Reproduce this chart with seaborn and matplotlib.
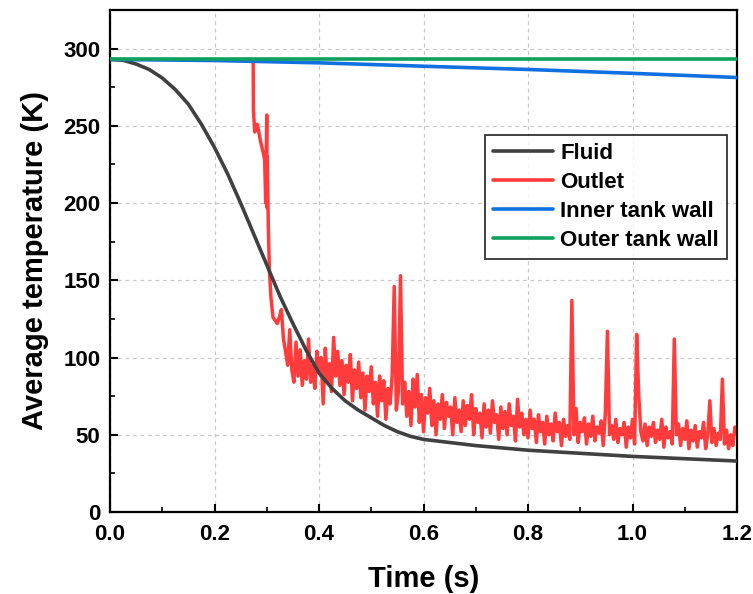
import numpy as np
import pandas as pd
import matplotlib
matplotlib.use("Agg")
import matplotlib.pyplot as plt
import seaborn as sns
from matplotlib.ticker import MultipleLocator
from matplotlib.lines import Line2D

sns.set_theme(style="white")
plt.rcParams['font.family'] = ['Liberation Sans', 'DejaVu Sans']
plt.rcParams['font.weight'] = 'bold'
plt.rcParams['text.color'] = 'black'
plt.rcParams['axes.labelcolor'] = 'black'
plt.rcParams['xtick.color'] = 'black'
plt.rcParams['ytick.color'] = 'black'

# ---------------- data ----------------
fluid_t = [0, 0.025, 0.05, 0.075, 0.1, 0.125, 0.15, 0.175, 0.2, 0.225, 0.25, 0.275,
           0.3, 0.325, 0.35, 0.375, 0.4, 0.425, 0.45, 0.475, 0.5, 0.525, 0.55, 0.575,
           0.6, 0.65, 0.7, 0.8, 0.9, 1.0, 1.1, 1.2]
fluid_v = [293, 292.5, 290, 286.5, 281, 273.5, 264, 251, 236, 219, 200, 180,
           160, 140, 122, 105, 90, 80, 72, 66, 61, 56, 52, 49,
           47, 45, 43, 40, 38, 36, 34.5, 33]

outlet_head_t = [0.274, 0.2745, 0.277, 0.279, 0.282, 0.288, 0.293, 0.296, 0.298,
                 0.300, 0.3005, 0.301, 0.302, 0.303, 0.305, 0.308, 0.312, 0.316]
outlet_head_v = [291, 260, 246, 250, 251, 240, 233, 228, 200,
                 257, 197, 230, 205, 185, 157, 139, 126, 124]

outlet_noise_start = 0.320
outlet_noise_step = 0.004
outlet_noise_v = [
    122, 126, 131, 112, 104, 95, 118, 92, 84, 110,
    88, 105, 82, 98, 86, 112, 84, 95, 80, 104,
    90, 100, 70, 106, 85, 96, 78, 113, 88, 104,
    82, 98, 76, 95, 84, 102, 72, 92, 80, 97,
    74, 90, 66, 88, 78, 94, 70, 84, 62, 88,
    72, 85, 60, 80, 70, 88, 146, 66, 78, 153,
    70, 84, 62, 78, 56, 86, 68, 89, 58, 76,
    52, 74, 64, 80, 56, 72, 50, 70, 60, 76,
    54, 71, 62, 68, 50, 74, 58, 66, 52, 72,
    56, 69, 60, 76, 50, 67, 58, 64, 48, 70,
    55, 66, 51, 72, 58, 63, 47, 68, 54, 65,
    50, 70, 56, 62, 46, 73, 55, 64, 50, 60,
    48, 66, 54, 60, 45, 63, 52, 58, 44, 62,
    50, 57, 46, 64, 52, 58, 43, 60, 49, 56,
    47, 137, 50, 67, 45, 58, 52, 61, 44, 57,
    49, 62, 46, 55, 51, 59, 43, 64, 117, 50,
    56, 47, 60, 45, 54, 50, 58, 42, 55, 48,
    60, 44, 115, 75, 52, 46, 57, 43, 55, 49,
    58, 45, 53, 47, 60, 42, 55, 48, 52, 44,
    112, 50, 57, 43, 54, 47, 59, 41, 53, 46,
    56, 42, 52, 48, 58, 41, 50, 72, 45, 54,
    43, 51, 47, 86, 44, 53, 41, 50, 43, 55,
    52,
]

inner_t = [0, 0.2, 0.4, 0.6, 0.8, 1.0, 1.2]
inner_v = [293, 292.3, 290.8, 288.6, 286.5, 284, 281.3]

outer_t = [0, 1.2]
outer_v = [293, 293]

x_ticks = [0.0, 0.2, 0.4, 0.6, 0.8, 1.0, 1.2]
y_ticks = [0, 50, 100, 150, 200, 250, 300]
series_names = ["Fluid", "Outlet", "Inner tank wall", "Outer tank wall"]

# ---------------- frames ----------------
noise_t = outlet_noise_start + outlet_noise_step * np.arange(len(outlet_noise_v))
outlet_t = list(outlet_head_t) + list(noise_t)
outlet_v = list(outlet_head_v) + list(outlet_noise_v)

df_fluid = pd.DataFrame({"t": fluid_t, "T": fluid_v})
df_outlet = pd.DataFrame({"t": outlet_t, "T": outlet_v})
df_inner = pd.DataFrame({"t": inner_t, "T": inner_v})
df_outer = pd.DataFrame({"t": outer_t, "T": outer_v})

fig = plt.figure(figsize=(7.53, 5.94), dpi=100)
ax = fig.add_axes([110/753, 82/594, 627/753, 502/594])

c_fluid = "#404040"
c_outlet = "#ff3b3b"
c_inner = "#1170e0"
c_outer = "#0fa05e"

sns.lineplot(data=df_outlet, x="t", y="T", ax=ax, color=c_outlet, lw=2.5,
             estimator=None, sort=False, zorder=2)
sns.lineplot(data=df_fluid, x="t", y="T", ax=ax, color=c_fluid, lw=2.6,
             estimator=None, zorder=3)
sns.lineplot(data=df_inner, x="t", y="T", ax=ax, color=c_inner, lw=2.6,
             estimator=None, zorder=4)
sns.lineplot(data=df_outer, x="t", y="T", ax=ax, color=c_outer, lw=2.6,
             estimator=None, zorder=5)

ax.set_xlim(0, 1.2)
ax.set_ylim(0, 325)
ax.set_xticks(x_ticks)
ax.set_xticklabels([f"{v:.1f}" for v in x_ticks])
ax.set_yticks(y_ticks)
ax.xaxis.set_minor_locator(MultipleLocator(0.1))
ax.yaxis.set_minor_locator(MultipleLocator(25))
ax.tick_params(which="major", direction="in", length=6, width=1.5,
               labelsize=16, colors="black")
ax.tick_params(axis="x", which="major", pad=9)
ax.tick_params(axis="y", which="major", pad=7)
ax.tick_params(which="minor", direction="in", length=3.5, width=1.2, colors="black")
ax.tick_params(axis="both", which="both", bottom=True, left=True, top=False, right=False)
for lab in ax.get_xticklabels() + ax.get_yticklabels():
    lab.set_fontweight("bold")

ax.grid(True, which="major", linestyle=(0, (3, 3)), color="#c8c8c8", lw=0.9)
ax.set_axisbelow(True)
for s in ax.spines.values():
    s.set_color("black")
    s.set_linewidth(1.6)

ax.set_xlabel("Time (s)", fontsize=21, fontweight="bold", labelpad=14, color="black")
ax.set_ylabel("Average temperature (K)", fontsize=21, fontweight="bold", labelpad=10,
              color="black")

handles = [Line2D([], [], color=c_fluid, lw=2.6),
           Line2D([], [], color=c_outlet, lw=2.6),
           Line2D([], [], color=c_inner, lw=2.6),
           Line2D([], [], color=c_outer, lw=2.6)]
leg = ax.legend(handles, series_names,
                loc="upper right", bbox_to_anchor=(0.984, 0.751),
                prop={"weight": "bold", "size": 16}, frameon=True, fancybox=False,
                handlelength=2.7, handletextpad=0.35, labelspacing=0.36,
                borderpad=0.35, borderaxespad=0)
leg.get_frame().set_edgecolor("black")
leg.get_frame().set_linewidth(1.3)
for txt in leg.get_texts():
    txt.set_color("black")

fig.savefig("out.png", dpi=100)
